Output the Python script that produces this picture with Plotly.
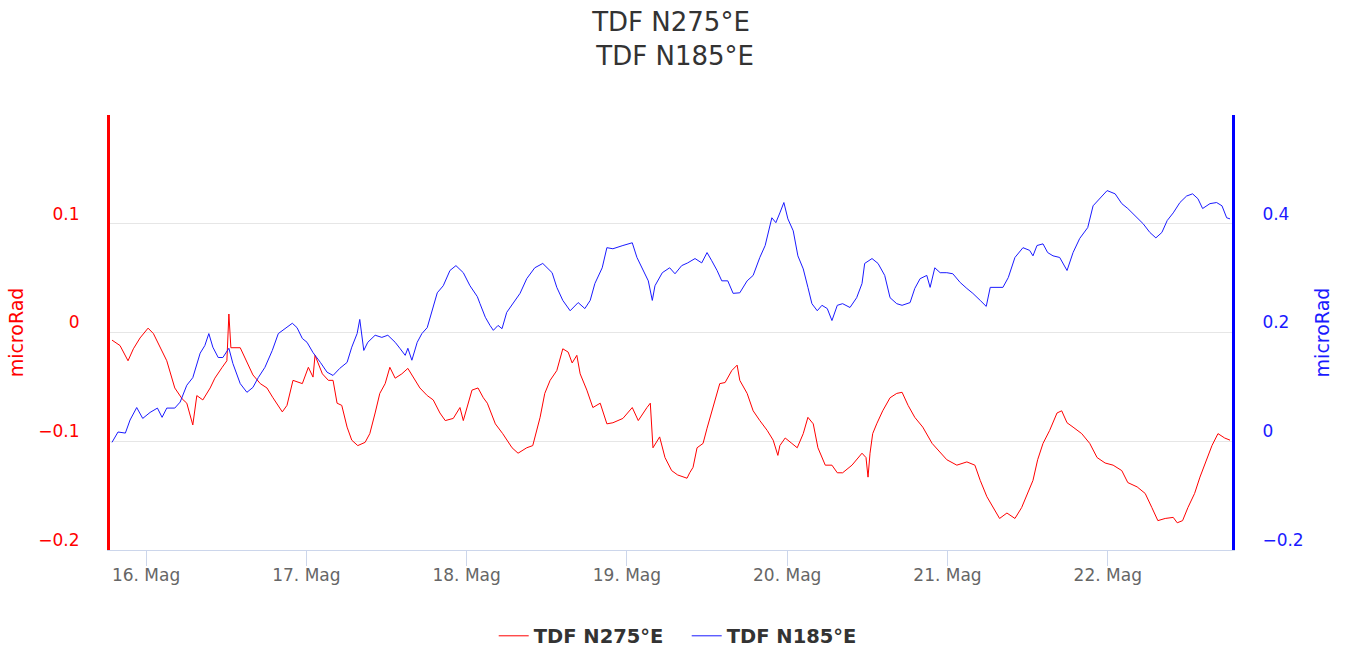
import pandas as pd
import plotly.graph_objects as go

# ---- data (hours after 16 May 00:00, values in microRad) ----
START = "2023-05-16 00:00"

red_hours = [-5.1, -3.9, -2.7, -1.9, -0.9, 0.3, 1.1, 2.1, 3.1, 4.3, 5.4, 6.1, 7.0, 7.6, 8.5, 9.6, 10.3, 11.4, 12.1, 12.4,
             12.7, 14.1, 15.1, 16.0, 17.1, 18.1, 19.0, 20.4, 21.1, 22.0, 23.4, 24.3, 25.0, 25.3, 26.4, 27.3, 28.0, 28.6,
             29.3, 30.1, 30.8, 31.7, 32.8, 33.5, 34.3, 35.0, 35.8, 36.5, 37.3, 38.3, 39.2, 40.0, 41.0, 42.1, 43.0, 44.0,
             44.8, 46.0, 47.0, 47.5, 48.8, 49.7, 50.5, 51.1, 52.3, 53.4, 54.8, 55.7, 57.0, 57.9, 58.5, 59.0, 59.7, 60.5,
             61.5, 62.4, 63.2, 63.8, 64.5, 65.0, 66.0, 66.9, 68.0, 69.0, 69.9, 71.4, 72.8, 73.7, 75.0, 75.5, 75.9, 76.9,
             77.7, 78.7, 79.6, 81.0, 81.4, 81.9, 82.5, 83.4, 84.0, 84.9, 85.9, 86.7, 87.7, 88.5, 88.9, 90.0, 90.9, 91.9,
             93.0, 93.9, 94.6, 94.9, 95.7, 96.7, 97.5, 98.4, 99.1, 99.9, 100.6, 101.7, 102.7, 103.5, 104.3, 105.7,
             106.4, 107.2, 107.8, 108.1, 108.4, 108.8, 109.4, 110.3, 111.4, 112.4, 113.2, 114.1, 115.1, 116.3, 117.7,
             118.9, 119.9, 121.4, 122.9, 124.1, 124.9, 125.9, 126.8, 127.8, 128.9, 130.1, 131.1, 132.0, 132.8, 133.5,
             134.3, 135.3, 136.4, 137.1, 137.9, 138.8, 140.1, 141.3, 142.4, 143.6, 144.8, 146.1, 147.0, 148.4, 149.6,
             150.6, 151.5, 152.6, 153.8, 154.4, 155.2, 156.0, 157.0, 157.8, 158.8, 159.6, 160.5, 161.5, 162.3]
red_values = [-0.007, -0.012, -0.026, -0.015, -0.005, 0.004, -0.001, -0.014, -0.026, -0.051, -0.061, -0.065, -0.085,
              -0.058, -0.062, -0.051, -0.042, -0.032, -0.026, 0.017, -0.014, -0.014, -0.028, -0.039, -0.047, -0.051,
              -0.060, -0.073, -0.067, -0.044, -0.047, -0.032, -0.041, -0.021, -0.038, -0.044, -0.044, -0.065, -0.067,
              -0.087, -0.099, -0.104, -0.101, -0.093, -0.074, -0.056, -0.047, -0.032, -0.042, -0.038, -0.033, -0.041,
              -0.051, -0.058, -0.062, -0.074, -0.081, -0.079, -0.069, -0.081, -0.053, -0.051, -0.060, -0.065, -0.084,
              -0.093, -0.106, -0.111, -0.106, -0.104, -0.090, -0.078, -0.056, -0.044, -0.035, -0.015, -0.018, -0.028,
              -0.021, -0.038, -0.053, -0.069, -0.065, -0.084, -0.083, -0.079, -0.069, -0.081, -0.069, -0.065, -0.106,
              -0.096, -0.115, -0.127, -0.131, -0.134, -0.129, -0.124, -0.106, -0.102, -0.088, -0.069, -0.047, -0.046,
              -0.035, -0.030, -0.044, -0.056, -0.072, -0.081, -0.090, -0.099, -0.113, -0.104, -0.097, -0.102, -0.106,
              -0.093, -0.078, -0.084, -0.106, -0.122, -0.122, -0.129, -0.129, -0.122, -0.117, -0.111, -0.115, -0.133,
              -0.111, -0.093, -0.084, -0.072, -0.060, -0.056, -0.055, -0.067, -0.078, -0.087, -0.102, -0.110, -0.117,
              -0.122, -0.119, -0.122, -0.136, -0.151, -0.161, -0.171, -0.166, -0.171, -0.161, -0.148, -0.136, -0.117,
              -0.102, -0.090, -0.074, -0.072, -0.083, -0.087, -0.093, -0.102, -0.115, -0.120, -0.122, -0.127, -0.138,
              -0.142, -0.148, -0.161, -0.173, -0.171, -0.170, -0.175, -0.173, -0.161, -0.148, -0.133, -0.117, -0.104,
              -0.093, -0.097, -0.099]

blue_hours = [-5.1, -4.2, -3.1, -2.4, -1.4, -0.5, 0.6, 1.7, 2.4, 3.1, 4.3, 5.1, 6.1, 7.0, 8.1, 8.8, 9.4, 10.0, 10.8,
              11.5, 12.4, 13.0, 14.1, 15.1, 16.0, 16.8, 17.8, 18.9, 19.8, 20.8, 21.9, 22.6, 23.4, 24.1, 25.0, 26.1,
              27.1, 28.0, 29.0, 30.1, 30.8, 31.6, 32.0, 32.6, 33.2, 34.3, 35.3, 36.2, 37.3, 38.0, 38.8, 39.2, 39.8,
              40.6, 41.3, 42.1, 42.8, 43.6, 44.5, 45.5, 46.4, 47.5, 48.5, 49.6, 50.0, 50.8, 51.5, 52.0, 52.7, 53.3,
              54.0, 54.9, 56.0, 57.0, 58.2, 59.4, 60.8, 61.5, 62.4, 63.5, 64.7, 65.7, 66.5, 67.2, 68.3, 69.0, 69.9,
              71.4, 72.8, 73.5, 74.4, 75.2, 75.8, 76.2, 77.3, 78.4, 79.2, 80.2, 81.1, 82.2, 83.2, 84.0, 84.7, 85.5,
              86.2, 87.1, 87.9, 88.9, 90.0, 90.9, 91.9, 92.7, 93.7, 94.3, 94.9, 95.5, 96.1, 96.9, 97.6, 98.4, 99.1,
              99.7, 100.5, 101.2, 102.0, 102.7, 103.5, 104.3, 105.4, 106.4, 107.2, 107.6, 108.7, 109.6, 110.6, 111.4,
              112.4, 113.2, 114.4, 115.1, 115.9, 116.9, 117.4, 118.1, 118.9, 119.9, 120.8, 121.9, 122.9, 123.8, 124.9,
              125.8, 126.4, 127.4, 128.3, 129.1, 130.1, 131.3, 132.3, 132.8, 133.4, 134.3, 135.0, 135.8, 136.8, 137.9,
              138.8, 139.8, 141.0, 141.8, 142.8, 143.9, 145.1, 146.1, 147.0, 148.4, 149.3, 150.3, 151.2, 152.1, 152.9,
              153.8, 154.8, 155.8, 156.7, 157.5, 158.2, 159.3, 160.3, 161.1, 161.8, 162.3]
blue_values = [-0.002, 0.017, 0.015, 0.039, 0.062, 0.042, 0.053, 0.061, 0.044, 0.061, 0.061, 0.072, 0.103, 0.117,
               0.162, 0.176, 0.198, 0.173, 0.154, 0.154, 0.171, 0.143, 0.106, 0.090, 0.099, 0.117, 0.136, 0.167, 0.198,
               0.207, 0.217, 0.209, 0.189, 0.182, 0.163, 0.145, 0.127, 0.121, 0.134, 0.145, 0.173, 0.198, 0.224, 0.167,
               0.182, 0.195, 0.191, 0.195, 0.182, 0.171, 0.158, 0.171, 0.149, 0.182, 0.198, 0.209, 0.240, 0.273, 0.286,
               0.314, 0.323, 0.310, 0.286, 0.266, 0.253, 0.228, 0.213, 0.204, 0.213, 0.207, 0.237, 0.253, 0.272, 0.299,
               0.319, 0.327, 0.310, 0.283, 0.259, 0.240, 0.255, 0.244, 0.259, 0.290, 0.319, 0.356, 0.354, 0.360, 0.365,
               0.338, 0.314, 0.295, 0.259, 0.286, 0.310, 0.319, 0.308, 0.323, 0.328, 0.336, 0.328, 0.347, 0.332, 0.314,
               0.295, 0.295, 0.272, 0.273, 0.295, 0.305, 0.338, 0.360, 0.411, 0.402, 0.420, 0.439, 0.409, 0.387, 0.341,
               0.317, 0.283, 0.253, 0.240, 0.250, 0.244, 0.222, 0.250, 0.253, 0.246, 0.264, 0.290, 0.327, 0.336, 0.327,
               0.305, 0.264, 0.253, 0.250, 0.255, 0.281, 0.299, 0.305, 0.283, 0.319, 0.310, 0.310, 0.308, 0.292, 0.281,
               0.272, 0.259, 0.248, 0.283, 0.283, 0.283, 0.301, 0.338, 0.356, 0.351, 0.341, 0.360, 0.363, 0.347, 0.341,
               0.338, 0.314, 0.347, 0.373, 0.393, 0.433, 0.446, 0.461, 0.455, 0.437, 0.428, 0.411, 0.400, 0.384, 0.374,
               0.384, 0.406, 0.420, 0.439, 0.451, 0.455, 0.446, 0.428, 0.437, 0.439, 0.433, 0.411, 0.409]

tick_days = ["2023-05-16", "2023-05-17", "2023-05-18", "2023-05-19", "2023-05-20", "2023-05-21", "2023-05-22"]
tick_labels = ["16. Mag", "17. Mag", "18. Mag", "19. Mag", "20. Mag", "21. Mag", "22. Mag"]
x_range_hours = [-5.4, 162.6]

left_ticks = [-0.2, -0.1, 0, 0.1]
left_labels = ["\u22120.2", "\u22120.1", "0", "0.1"]
right_ticks = [-0.2, 0, 0.2, 0.4]
right_labels = ["\u22120.2", "0", "0.2", "0.4"]

t0 = pd.Timestamp(START)
red_t = [t0 + pd.Timedelta(hours=h) for h in red_hours]
blue_t = [t0 + pd.Timedelta(hours=h) for h in blue_hours]
xr = [t0 + pd.Timedelta(hours=h) for h in x_range_hours]

FONT = "DejaVu Sans"
RED = "#ff0000"
BLUE = "#1a1aff"

fig = go.Figure()
fig.add_trace(go.Scatter(x=red_t, y=red_values, mode="lines", name="TDF N275°E",
                         line=dict(color=RED, width=1), yaxis="y"))
fig.add_trace(go.Scatter(x=blue_t, y=blue_values, mode="lines", name="TDF N185°E",
                         line=dict(color=BLUE, width=1), yaxis="y2"))

fig.update_layout(
    width=1346, height=648,
    margin=dict(l=110, r=114, t=115, b=98, autoexpand=False),
    paper_bgcolor="white", plot_bgcolor="white",
    font=dict(family=FONT),
    title=dict(text="TDF N275°E<br> TDF N185°E", x=0.5, xref="paper", xanchor="center",
               y=0.952, yanchor="top", font=dict(size=26, color="#333333", family=FONT)),
    showlegend=True,
    legend=dict(orientation="h", x=0.514, xanchor="center", y=-0.198, yanchor="middle",
                font=dict(size=19.5, color="#333333", family=FONT, weight="bold"),
                entrywidth=148, entrywidthmode="pixels",
                bgcolor="rgba(0,0,0,0)"),
    xaxis=dict(type="date", range=xr, tickvals=[pd.Timestamp(d) for d in tick_days], ticktext=tick_labels,
               showgrid=False, zeroline=False, showline=True, linecolor="#ccd6eb", linewidth=1,
               ticks="outside", ticklen=15, tickcolor="#ccd6eb", tickwidth=1, ticklabelstandoff=-5,
               tickfont=dict(size=17, color="#666666", family=FONT), automargin=False),
    yaxis=dict(range=[-0.2, 0.2], tickvals=left_ticks, ticktext=left_labels,
               showgrid=True, gridcolor="#e6e6e6", gridwidth=1, zeroline=False,
               showline=True, linecolor=RED, linewidth=3, ticks="",
               tickfont=dict(size=17, color=RED, family=FONT),
               ticklabelshift=-10, ticklabelstandoff=24,
               title=dict(text="microRad", font=dict(size=19, color=RED, family=FONT), standoff=10),
               automargin=False),
    yaxis2=dict(range=[-0.2, 0.6], tickvals=right_ticks, ticktext=right_labels, overlaying="y", side="right",
                showgrid=False, zeroline=False, showline=True, linecolor="#0000ff", linewidth=3, ticks="",
                tickfont=dict(size=17, color=BLUE, family=FONT),
                ticklabelshift=-10, ticklabelstandoff=24,
                title=dict(text="microRad", font=dict(size=19, color=BLUE, family=FONT), standoff=14),
                automargin=False),
)

fig.write_html("out.html", config={"displayModeBar": False},
               post_script="document.body.style.margin='0';")
